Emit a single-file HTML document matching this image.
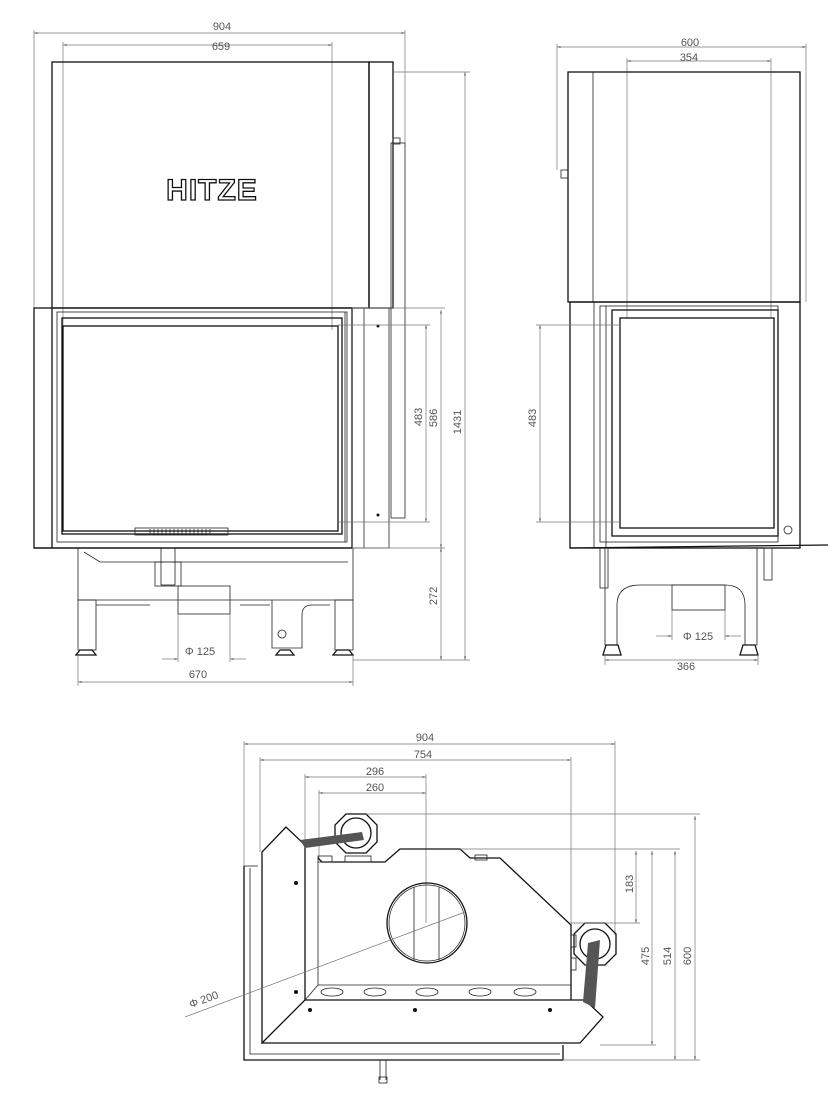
<!DOCTYPE html>
<html><head><meta charset="utf-8"><style>
html,body{margin:0;padding:0;background:#fff}
svg{display:block}
text{font-family:"Liberation Sans",sans-serif;font-size:11px;fill:#555}
.k{stroke:#111;fill:none;stroke-width:1.3}
.t{stroke:#222;fill:none;stroke-width:0.8}
.d{stroke:#777;fill:none;stroke-width:0.7}
</style></head><body>
<svg width="834" height="1105" viewBox="0 0 834 1105" xmlns="http://www.w3.org/2000/svg">
<defs>
<marker id="ar" viewBox="0 0 10 10" refX="10" refY="5" markerWidth="7" markerHeight="5" orient="auto-start-reverse"><path d="M0,2 L10,5 L0,8z" fill="#666"/></marker>
</defs>

<!-- ========== FRONT VIEW ========== -->
<g>
<line class="d" x1="34" y1="33" x2="405" y2="33" marker-start="url(#ar)" marker-end="url(#ar)"/>
<text x="222" y="30" text-anchor="middle">904</text>
<line class="d" x1="34" y1="30" x2="34" y2="308"/>
<line class="d" x1="405" y1="30" x2="405" y2="143"/>
<line class="d" x1="63" y1="45" x2="332" y2="45" marker-start="url(#ar)" marker-end="url(#ar)"/>
<text x="221" y="50" text-anchor="middle">659</text>
<line class="d" x1="63" y1="42" x2="63" y2="325"/>
<line class="d" x1="332" y1="42" x2="332" y2="330"/>

<rect class="k" x="52" y="62" width="317" height="246"/>
<rect class="k" x="369" y="62" width="24" height="246"/>
<text x="212" y="200" text-anchor="middle" style="font-size:30px;font-weight:bold;fill:#fff;stroke:#111;stroke-width:1.3;letter-spacing:1px">HITZE</text>
<rect class="t" x="391" y="143" width="14" height="375"/>
<rect class="t" x="393" y="138" width="7" height="6"/>

<rect class="k" x="34" y="308" width="318" height="240"/>
<line class="k" x1="52" y1="308" x2="52" y2="548"/>
<rect class="t" x="57" y="312" width="290" height="230"/>
<rect class="k" x="62" y="318" width="280" height="216"/>
<rect class="k" x="63" y="326" width="275" height="205"/>
<line class="t" x1="345" y1="312" x2="345" y2="542"/>
<rect class="t" x="352" y="308" width="37" height="240"/>
<line class="t" x1="364" y1="308" x2="364" y2="548"/>
<circle cx="378" cy="326" r="1.5" fill="#111"/>
<circle cx="378" cy="515" r="1.5" fill="#111"/>
<rect class="t" x="135" y="528" width="93" height="7"/>
<g stroke="#222" stroke-width="0.8">
<line x1="150" y1="529" x2="150" y2="534"/><line x1="154" y1="529" x2="154" y2="534"/><line x1="158" y1="529" x2="158" y2="534"/><line x1="162" y1="529" x2="162" y2="534"/><line x1="166" y1="529" x2="166" y2="534"/><line x1="170" y1="529" x2="170" y2="534"/><line x1="174" y1="529" x2="174" y2="534"/><line x1="178" y1="529" x2="178" y2="534"/><line x1="182" y1="529" x2="182" y2="534"/><line x1="186" y1="529" x2="186" y2="534"/><line x1="190" y1="529" x2="190" y2="534"/><line x1="194" y1="529" x2="194" y2="534"/><line x1="198" y1="529" x2="198" y2="534"/><line x1="202" y1="529" x2="202" y2="534"/><line x1="206" y1="529" x2="206" y2="534"/><line x1="210" y1="529" x2="210" y2="534"/>
</g>
<line class="k" x1="34" y1="548" x2="352" y2="548"/>

<path class="t" d="M78,548 V600 H353 V548"/>
<path class="t" d="M84,552 L100,562 H348"/>
<rect class="t" x="161" y="548" width="14" height="37"/>
<rect class="t" x="155" y="562" width="26" height="24"/>
<rect class="t" x="178" y="586" width="52" height="28"/>
<rect class="t" x="78" y="600" width="18" height="50"/>
<rect class="t" x="335" y="600" width="18" height="50"/>
<path class="t" d="M272,600 V648 H302 V615 Q302,605 312,605 H330"/>
<circle class="t" cx="282" cy="634" r="4"/>
<path class="t" d="M96,605 H150 M240,605 H270"/>
<path class="k" d="M80,650 h12 l4,5 h-20z M280,650 h10 l4,5 h-18z M337,650 h12 l4,5 h-20z"/>

<line class="d" x1="393" y1="72" x2="470" y2="72"/>
<line class="d" x1="465" y1="72" x2="465" y2="660" marker-start="url(#ar)" marker-end="url(#ar)"/>
<text transform="translate(461,422) rotate(-90)" text-anchor="middle">1431</text>
<line class="d" x1="352" y1="308" x2="445" y2="308"/>
<line class="d" x1="441" y1="310" x2="441" y2="548" marker-start="url(#ar)" marker-end="url(#ar)"/>
<text transform="translate(437,418) rotate(-90)" text-anchor="middle">586</text>
<line class="d" x1="338" y1="325" x2="430" y2="325"/>
<line class="d" x1="338" y1="522" x2="430" y2="522"/>
<line class="d" x1="426" y1="325" x2="426" y2="522" marker-start="url(#ar)" marker-end="url(#ar)"/>
<text transform="translate(422,417) rotate(-90)" text-anchor="middle">483</text>
<line class="d" x1="352" y1="548" x2="445" y2="548"/>
<line class="d" x1="441" y1="548" x2="441" y2="660" marker-start="url(#ar)" marker-end="url(#ar)"/>
<text transform="translate(437,596) rotate(-90)" text-anchor="middle">272</text>
<line class="d" x1="353" y1="660" x2="470" y2="660"/>
<line class="d" x1="178" y1="614" x2="178" y2="662"/>
<line class="d" x1="230" y1="614" x2="230" y2="662"/>
<line class="d" x1="162" y1="659" x2="178" y2="659" marker-end="url(#ar)"/>
<line class="d" x1="246" y1="659" x2="230" y2="659" marker-end="url(#ar)"/>
<text x="200" y="655" text-anchor="middle">Φ 125</text>
<line class="d" x1="78" y1="655" x2="78" y2="686"/>
<line class="d" x1="353" y1="655" x2="353" y2="686"/>
<line class="d" x1="78" y1="682" x2="353" y2="682" marker-start="url(#ar)" marker-end="url(#ar)"/>
<text x="198" y="678" text-anchor="middle">670</text>
</g>

<!-- ========== SIDE VIEW ========== -->
<g>
<line class="d" x1="557" y1="47" x2="806" y2="47" marker-start="url(#ar)" marker-end="url(#ar)"/>
<text x="690" y="46" text-anchor="middle">600</text>
<line class="d" x1="557" y1="44" x2="557" y2="170"/>
<line class="d" x1="806" y1="44" x2="806" y2="302"/>
<line class="d" x1="627" y1="61" x2="771" y2="61" marker-start="url(#ar)" marker-end="url(#ar)"/>
<text x="689" y="61" text-anchor="middle">354</text>
<line class="d" x1="627" y1="58" x2="627" y2="318"/>
<line class="d" x1="771" y1="58" x2="771" y2="318"/>

<rect class="k" x="568" y="72" width="232" height="230"/>
<line class="t" x1="593" y1="72" x2="593" y2="302"/>
<rect class="t" x="561" y="170" width="7" height="8"/>
<rect class="k" x="570" y="302" width="230" height="246"/>
<line class="t" x1="594" y1="302" x2="594" y2="548"/>
<rect class="t" x="600" y="306" width="178" height="236"/>
<rect class="k" x="612" y="310" width="166" height="226"/>
<rect class="k" x="620" y="318" width="154" height="210"/>
<line class="t" x1="606" y1="306" x2="606" y2="548"/>
<circle class="t" cx="788" cy="530" r="4"/>
<line class="k" x1="570" y1="548" x2="828" y2="545"/>
<path class="t" d="M605,548 V645 H617 V605 Q617,585 640,585 H725 Q745,585 745,605 V645 H757 V548"/>
<rect class="t" x="600" y="548" width="8" height="40"/>
<rect class="t" x="764" y="548" width="8" height="32"/>
<rect class="t" x="672" y="585" width="53" height="25"/>
<path class="k" d="M606,645 h12 l3,10 h-18z M743,645 h12 l3,10 h-18z"/>
<line class="d" x1="536" y1="325" x2="620" y2="325"/>
<line class="d" x1="536" y1="522" x2="620" y2="522"/>
<line class="d" x1="540" y1="325" x2="540" y2="522" marker-start="url(#ar)" marker-end="url(#ar)"/>
<text transform="translate(536,418) rotate(-90)" text-anchor="middle">483</text>
<line class="d" x1="672" y1="610" x2="672" y2="640"/>
<line class="d" x1="725" y1="610" x2="725" y2="640"/>
<line class="d" x1="656" y1="636" x2="672" y2="636" marker-end="url(#ar)"/>
<line class="d" x1="741" y1="636" x2="725" y2="636" marker-end="url(#ar)"/>
<text x="698" y="640" text-anchor="middle">Φ 125</text>
<line class="d" x1="605" y1="655" x2="605" y2="665"/>
<line class="d" x1="758" y1="655" x2="758" y2="665"/>
<line class="d" x1="605" y1="660" x2="758" y2="660" marker-start="url(#ar)" marker-end="url(#ar)"/>
<text x="686" y="670" text-anchor="middle">366</text>
</g>

<!-- ========== PLAN VIEW ========== -->
<g>
<line class="d" x1="244" y1="744" x2="615" y2="744" marker-start="url(#ar)" marker-end="url(#ar)"/>
<text x="425" y="741" text-anchor="middle">904</text>
<line class="d" x1="244" y1="741" x2="244" y2="866"/>
<line class="d" x1="615" y1="741" x2="615" y2="935"/>
<line class="d" x1="260" y1="760" x2="571" y2="760" marker-start="url(#ar)" marker-end="url(#ar)"/>
<text x="423" y="758" text-anchor="middle">754</text>
<line class="d" x1="260" y1="757" x2="260" y2="852"/>
<line class="d" x1="571" y1="757" x2="571" y2="925"/>
<line class="d" x1="305" y1="777" x2="426" y2="777" marker-start="url(#ar)" marker-end="url(#ar)"/>
<text x="375" y="775" text-anchor="middle">296</text>
<line class="d" x1="305" y1="774" x2="305" y2="845"/>
<line class="d" x1="319" y1="793" x2="426" y2="793" marker-start="url(#ar)" marker-end="url(#ar)"/>
<text x="375" y="791" text-anchor="middle">260</text>
<line class="d" x1="319" y1="790" x2="319" y2="860"/>
<line class="d" x1="426" y1="774" x2="426" y2="923"/>

<path class="k" d="M244,866 V1060 H563 V1045"/>
<path class="t" d="M250,868 V1054 H560"/>
<path class="t" d="M244,866 H258"/>
<path class="k" d="M262,1043 V852 L286,827 L305,845 V1000 Z"/>
<path class="k" d="M305,1000 H585 L603,1017 L580,1043 H262"/>
<path class="k" d="M318,858 L322,862 H385 L400,849 H460 L470,858 H500 L571,925 V1000"/>
<line class="t" x1="318" y1="862" x2="318" y2="985"/>
<line class="t" x1="318" y1="985" x2="571" y2="985"/>
<line class="t" x1="305" y1="1000" x2="318" y2="985"/>
<rect class="t" x="318" y="856" width="14" height="6"/>
<rect class="t" x="345" y="856" width="26" height="6"/>
<rect class="t" x="475" y="855" width="12" height="5"/>
<g class="t"><ellipse cx="332" cy="992" rx="11" ry="4"/><ellipse cx="375" cy="992" rx="11" ry="4"/><ellipse cx="427" cy="992" rx="11" ry="4"/><ellipse cx="480" cy="992" rx="11" ry="4"/><ellipse cx="525" cy="992" rx="11" ry="4"/></g>
<circle class="k" cx="427" cy="923" r="40"/>
<circle class="t" cx="427" cy="923" r="38"/>
<line class="t" x1="414" y1="887" x2="414" y2="960"/>
<line class="t" x1="439" y1="887" x2="439" y2="960"/>
<polygon class="k" points="346,814 366,814 377,825 377,842 366,853 346,853 335,842 335,825"/>
<circle class="k" cx="356" cy="833" r="15"/>
<path d="M300,840 L362,832 L364,840 L305,848z" fill="#555"/>
<polygon class="k" points="585,923 605,923 616,934 616,954 605,965 585,965 574,954 574,934"/>
<circle class="k" cx="595" cy="944" r="15"/>
<path d="M588,943 L600,940 L595,1008 L583,1002z" fill="#555"/>
<rect class="t" x="571" y="935" width="5" height="12"/>
<rect class="t" x="571" y="958" width="5" height="12"/>
<g fill="#111"><circle cx="296" cy="883" r="2"/><circle cx="296" cy="992" r="2"/><circle cx="310" cy="1010" r="2"/><circle cx="415" cy="1010" r="2"/><circle cx="550" cy="1010" r="2"/></g>
<path class="t" d="M380,1060 V1080 M386,1060 V1080"/>
<rect class="t" x="379" y="1077" width="8" height="6"/>
<line class="d" x1="185" y1="1017" x2="465" y2="912"/>
<text transform="translate(205,1003) rotate(-20)" text-anchor="middle">Φ 200</text>
<line class="d" x1="366" y1="814" x2="700" y2="814"/>
<line class="d" x1="460" y1="849" x2="680" y2="849"/>
<line class="d" x1="571" y1="923" x2="640" y2="923"/>
<line class="d" x1="600" y1="1045" x2="656" y2="1045"/>
<line class="d" x1="563" y1="1060" x2="700" y2="1060"/>
<line class="d" x1="636" y1="851" x2="636" y2="923" marker-start="url(#ar)" marker-end="url(#ar)"/>
<text transform="translate(633,884) rotate(-90)" text-anchor="middle">183</text>
<line class="d" x1="652" y1="851" x2="652" y2="1045" marker-start="url(#ar)" marker-end="url(#ar)"/>
<text transform="translate(649,956) rotate(-90)" text-anchor="middle">475</text>
<line class="d" x1="675" y1="851" x2="675" y2="1060" marker-start="url(#ar)" marker-end="url(#ar)"/>
<text transform="translate(671,956) rotate(-90)" text-anchor="middle">514</text>
<line class="d" x1="695" y1="816" x2="695" y2="1060" marker-start="url(#ar)" marker-end="url(#ar)"/>
<text transform="translate(691,956) rotate(-90)" text-anchor="middle">600</text>
</g>
</svg>
</body></html>
